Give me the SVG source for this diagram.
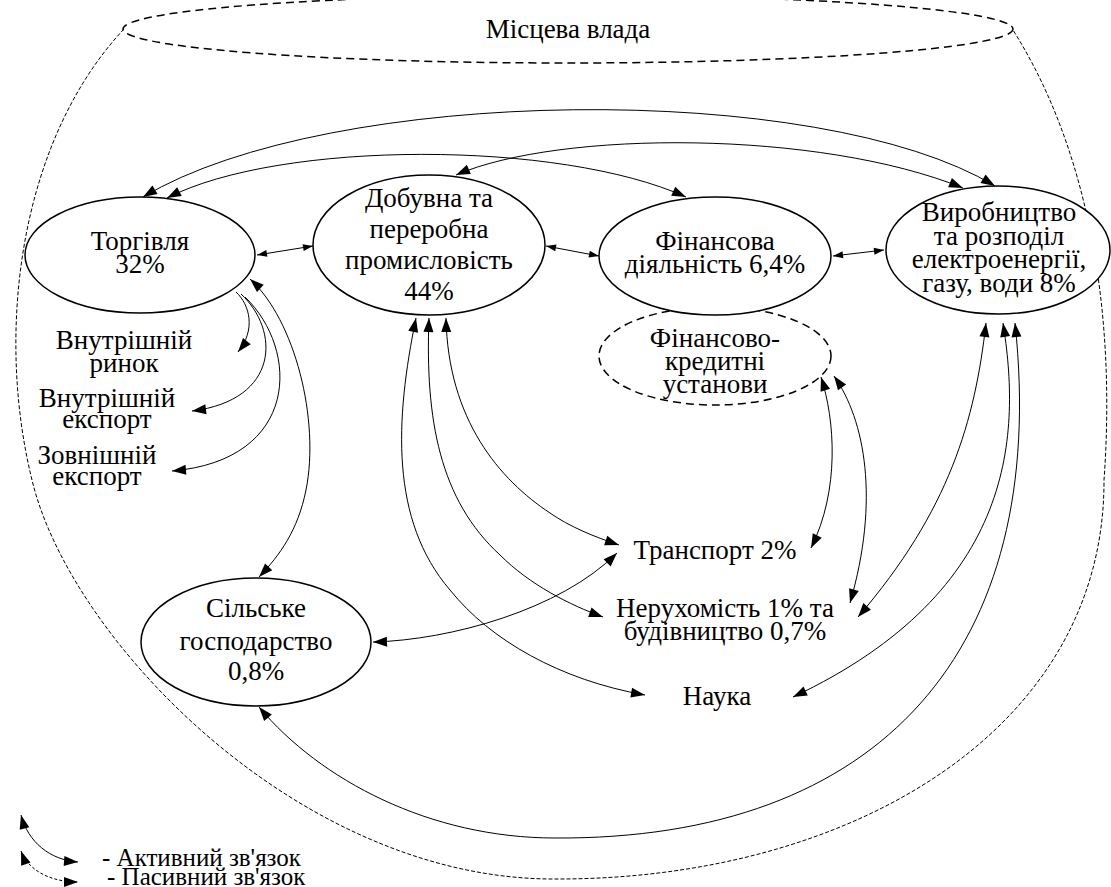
<svg xmlns="http://www.w3.org/2000/svg" width="1111" height="887" viewBox="0 0 1111 887">
<defs>
<marker id="arr" markerUnits="userSpaceOnUse" markerWidth="15" markerHeight="11" refX="14" refY="5" orient="auto-start-reverse" overflow="visible"><path d="M0,0 L14,5 L0,10 z" fill="#000"/></marker>
<marker id="sm" markerUnits="userSpaceOnUse" markerWidth="11" markerHeight="8" refX="10" refY="3.5" orient="auto-start-reverse" overflow="visible"><path d="M0,0 L10,3.5 L0,7 z" fill="#000"/></marker>
</defs>
<style>
text{font-family:"Liberation Serif","Tinos","Times New Roman","DejaVu Serif",serif}
.t{font-size:27px;fill:#000;text-anchor:middle}
.lg{font-size:25px;fill:#000}
.node{fill:#fff;stroke:#000;stroke-width:1.5}
.dnode{fill:none;stroke:#000;stroke-width:1.5;stroke-dasharray:8 5}
.c{fill:none;stroke:#000;stroke-width:1;marker-start:url(#arr);marker-end:url(#arr)}
.one{fill:none;stroke:#000;stroke-width:1;marker-end:url(#arr)}
.s{fill:none;stroke:#000;stroke-width:1;marker-start:url(#sm);marker-end:url(#sm)}
.outer{fill:none;stroke:#000;stroke-width:1;stroke-dasharray:4 2}
</style>

<g id="boundary">
<path class="outer" d="M124,29 C20,140 -5,330 32,480 C70,640 300,880 555,879 C850,880 1105,730 1104,480 C1115,330 1095,160 1013,30"/>
</g>

<g id="local-authority">
<ellipse class="dnode" cx="568" cy="29" rx="445" ry="34"/>
<text class="t" x="568" y="38">Місцева влада</text>
</g>

<g id="connectors">
<path class="c" d="M143,197 C330,85 820,80 995,186"/>
<path class="c" d="M167,198 C280,140 560,140 686,197"/>
<path class="c" d="M456,175 C560,130 820,130 963,188"/>
<path class="s" d="M257,255 L313,246"/>
<path class="s" d="M546,246 L599,256"/>
<path class="s" d="M833,256 L884,250"/>
<path class="one" d="M236,292 C250,305 256,330 238,352"/>
<path class="one" d="M241,294 C280,330 280,400 192,411"/>
<path class="one" d="M245,297 C300,350 300,460 172,471"/>
<path class="c" d="M250,279 C295,320 320,420 306,490 C298,530 280,555 259,577"/>
<path class="c" d="M416,318 C395,420 390,520 450,590 C490,640 560,680 645,695"/>
<path class="c" d="M429,318 C425,420 440,500 500,555 C530,585 570,605 603,617"/>
<path class="c" d="M446,318 C448,420 500,480 550,513 C570,527 595,537 619,545"/>
<path class="c" d="M373,642 C450,640 560,610 617,553"/>
<path class="c" d="M821,377 C835,420 840,490 811,548"/>
<path class="c" d="M834,376 C865,420 880,500 850,603"/>
<path class="c" d="M986,323 C975,420 950,510 858,617"/>
<path class="c" d="M1003,323 C1020,430 1020,590 793,697"/>
<path class="c" d="M1015,323 C1050,650 880,840 555,838 C430,838 320,780 259,707"/>
</g>

<g id="fin-credit">
<ellipse class="dnode" cx="715" cy="356" rx="116" ry="49"/>
<text class="t" x="715" y="347">Фінансово-</text>
<text class="t" x="715" y="370">кредитні</text>
<text class="t" x="715" y="393">установи</text>
</g>

<g id="trade">
<ellipse class="node" cx="140" cy="255" rx="115" ry="58"/>
<text class="t" x="140" y="250">Торгівля</text>
<text class="t" x="140" y="273">32%</text>
</g>

<g id="industry">
<ellipse class="node" cx="429" cy="245" rx="116" ry="70"/>
<text class="t" x="429" y="207">Добувна та</text>
<text class="t" x="429" y="238">переробна</text>
<text class="t" x="429" y="269">промисловість</text>
<text class="t" x="429" y="300">44%</text>
</g>

<g id="finance">
<ellipse class="node" cx="715" cy="256" rx="116" ry="59"/>
<text class="t" x="715" y="250">Фінансова</text>
<text class="t" x="715" y="273">діяльність 6,4%</text>
</g>

<g id="energy">
<ellipse class="node" cx="998" cy="250" rx="112" ry="64"/>
<text class="t" x="999" y="221">Виробництво</text>
<text class="t" x="999" y="245">та розподіл</text>
<text class="t" x="999" y="268">електроенергії,</text>
<text class="t" x="999" y="292">газу, води 8%</text>
</g>

<g id="agriculture">
<ellipse class="node" cx="256" cy="642" rx="115" ry="64"/>
<text class="t" x="256" y="617">Сільське</text>
<text class="t" x="256" y="650">господарство</text>
<text class="t" x="256" y="680">0,8%</text>
</g>

<g id="internal-market">
<text class="t" x="124" y="349">Внутрішній</text>
<text class="t" x="124" y="372">ринок</text>
</g>
<g id="internal-export">
<text class="t" x="107" y="407">Внутрішній</text>
<text class="t" x="107" y="428">експорт</text>
</g>
<g id="external-export">
<text class="t" x="97" y="464">Зовнішній</text>
<text class="t" x="97" y="485">експорт</text>
</g>
<g id="transport">
<text class="t" x="715" y="559">Транспорт 2%</text>
</g>
<g id="real-estate">
<text class="t" x="725" y="617">Нерухомість 1% та</text>
<text class="t" x="725" y="640">будівництво 0,7%</text>
</g>
<g id="science">
<text class="t" x="717" y="705">Наука</text>
</g>

<g id="legend">
<path class="c" d="M21,815 C28,842 50,860 78,862"/>
<text class="lg" x="102" y="866">- Активний зв'язок</text>
<path class="c" d="M21,851 C28,870 50,882 78,882" stroke-dasharray="3 2"/>
<text class="lg" x="107" y="885">- Пасивний зв'язок</text>
</g>
</svg>
